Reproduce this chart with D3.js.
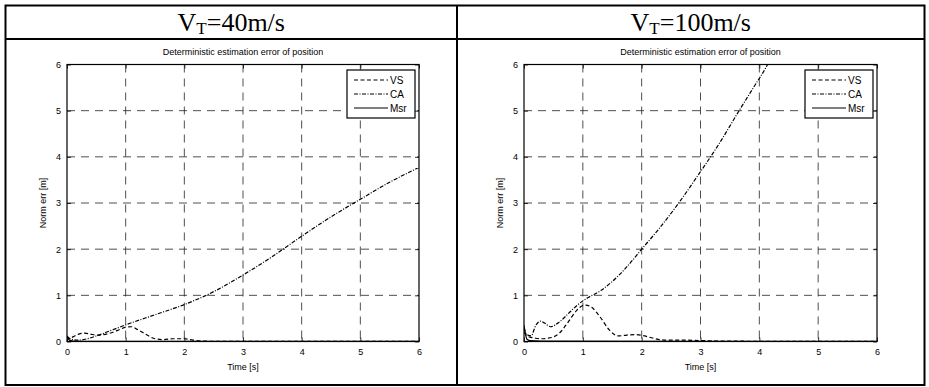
<!DOCTYPE html>
<html>
<head>
<meta charset="utf-8">
<script src="https://cdn.jsdelivr.net/npm/d3@7"></script>
<style>
  body { margin: 0; background: #fff; }
  text { font-family: "Liberation Sans", Arial, Helvetica, sans-serif; }
  .hdr { font-family: "Liberation Serif", "Times New Roman", serif; }
</style>
</head>
<body>
<div class="graphics"></div>
<script>
// panel headers
var headers = ["40m/s", "100m/s"]
var tickValues = [0, 1, 2, 3, 4, 5, 6]
var legendNames = ["VS", "CA", "Msr"]

// V_T = 40 m/s
var t40_vs = [0, 0.05, 0.1, 0.2, 0.3, 0.4, 0.5, 0.7, 0.9, 1.0, 1.1, 1.2, 1.35, 1.5, 1.65, 1.8, 2.0, 2.15, 2.3, 2.5, 3, 4, 5, 6]
var vs40   = [0.12, 0.06, 0.1, 0.16, 0.18, 0.16, 0.14, 0.17, 0.26, 0.31, 0.32, 0.26, 0.15, 0.06, 0.04, 0.06, 0.06, 0.03, 0.01, 0.005, 0.003, 0.002, 0.001, 0.001]
var t40_ca = [0, 0.1, 0.2, 0.35, 0.5, 0.75, 1, 1.5, 2, 2.5, 3, 3.5, 4, 4.5, 5, 5.5, 6]
var ca40   = [0.1, 0.04, 0.03, 0.06, 0.12, 0.24, 0.36, 0.58, 0.8, 1.08, 1.44, 1.84, 2.28, 2.7, 3.08, 3.45, 3.77]
var t40_msr = [0, 0.04, 0.1, 0.5, 6]
var msr40   = [0.12, 0.03, 0.01, 0.005, 0.003]

// V_T = 100 m/s
var t100_vs = [0, 0.05, 0.12, 0.2, 0.3, 0.4, 0.5, 0.6, 0.75, 0.9, 1.0, 1.05, 1.15, 1.3, 1.45, 1.6, 1.75, 1.9, 2.05, 2.2, 2.4, 2.7, 3.0, 3.3, 4, 5, 6]
var vs100   = [0.2, 0.12, 0.09, 0.07, 0.06, 0.07, 0.1, 0.18, 0.42, 0.68, 0.78, 0.79, 0.74, 0.52, 0.25, 0.12, 0.14, 0.15, 0.12, 0.07, 0.03, 0.03, 0.02, 0.01, 0.005, 0.003, 0.002]
var t100_ca = [0, 0.05, 0.12, 0.2, 0.28, 0.35, 0.45, 0.6, 0.75, 0.9, 1.0, 1.1, 1.3, 1.5, 1.75, 2.0, 2.3, 2.63, 3.0, 3.3, 3.68, 3.9, 4.14, 4.2]
var ca100   = [0.3, 0.15, 0.12, 0.35, 0.44, 0.4, 0.32, 0.42, 0.6, 0.78, 0.88, 0.96, 1.1, 1.3, 1.62, 2.0, 2.45, 3.0, 3.68, 4.25, 5.05, 5.5, 6.0, 6.15]
var t100_msr = [0, 0.02, 0.05, 0.1, 0.3, 6]
var msr100   = [0.35, 0.2, 0.05, 0.02, 0.01, 0.003]

var W = 929, H = 387

var svg = d3.select('.graphics')
    .append('svg')
    .attr("width", W)
    .attr("height", H)

svg.append("rect").attr("width", W).attr("height", H).attr("fill", "#fff")

// table frame
var tbl = svg.append("g").attr("stroke", "#000").attr("stroke-width", 2)
var tx0 = 5.5, tx1 = 924.5, tmid = 457, ty0 = 5.5, ty1 = 39, ty2 = 385
tbl.append("rect").attr("x", tx0).attr("y", ty0).attr("width", tx1 - tx0).attr("height", ty2 - ty0).attr("fill", "none")
tbl.append("line").attr("x1", tx0).attr("x2", tx1).attr("y1", ty1).attr("y2", ty1)
tbl.append("line").attr("x1", tmid).attr("x2", tmid).attr("y1", ty0).attr("y2", ty2)

function header(cx, label){
    var t = svg.append("text").attr("class", "hdr")
        .attr("x", cx).attr("y", 31)
        .attr("text-anchor", "middle")
        .attr("font-size", 26)
    t.append("tspan").text("V")
    t.append("tspan").attr("font-size", 17).attr("dy", 3).text("T")
    t.append("tspan").attr("dy", -3).text("=" + label)
}
header((tx0 + tmid) / 2, headers[0])
header((tmid + tx1) / 2, headers[1])

function toPts(ts, vs){
    return ts.map(function(t, i){ return [t, vs[i]]; })
}

function panel(id, left, right, series){
    var top = 64.5, bottom = 341.5
    var x = d3.scaleLinear().domain([0, 6]).range([left, right])
    var y = d3.scaleLinear().domain([0, 6]).range([bottom, top])
    var g = svg.append("g")
    var fmt = d3.format("d")

    // grid
    var inner = tickValues.slice(1, -1)
    g.selectAll(".gx").data(inner).enter().append("line")
        .attr("x1", function(d){ return x(d); }).attr("x2", function(d){ return x(d); })
        .attr("y1", top).attr("y2", bottom)
        .attr("stroke", "#222").attr("stroke-width", 0.8).attr("stroke-dasharray", "8,6")
    g.selectAll(".gy").data(inner).enter().append("line")
        .attr("y1", function(d){ return y(d); }).attr("y2", function(d){ return y(d); })
        .attr("x1", left).attr("x2", right)
        .attr("stroke", "#222").attr("stroke-width", 0.8).attr("stroke-dasharray", "8,6")

    // axes
    g.append("g").attr("transform", "translate(0," + bottom + ")")
        .call(d3.axisBottom(x).tickValues(tickValues).tickFormat(fmt).tickSize(-4).tickSizeOuter(0).tickPadding(7))
    g.append("g").attr("transform", "translate(" + left + ",0)")
        .call(d3.axisLeft(y).tickValues(tickValues).tickFormat(fmt).tickSize(-4).tickSizeOuter(0).tickPadding(6))
    g.append("g").attr("transform", "translate(0," + top + ")")
        .call(d3.axisTop(x).tickValues(tickValues).tickSize(-4).tickSizeOuter(0).tickFormat(""))
    g.append("g").attr("transform", "translate(" + right + ",0)")
        .call(d3.axisRight(y).tickValues(tickValues).tickSize(-4).tickSizeOuter(0).tickFormat(""))
    g.selectAll(".domain").remove()
    g.selectAll(".tick line").attr("stroke", "#000").attr("stroke-width", 0.8)
    g.selectAll(".tick text").attr("font-size", 9).attr("fill", "#000")
        .attr("font-family", "Liberation Sans, Arial, sans-serif")

    g.append("rect").attr("x", left).attr("y", top)
        .attr("width", right - left).attr("height", bottom - top)
        .attr("fill", "none").attr("stroke", "#000").attr("stroke-width", 1.2)

    // lines
    g.append("clipPath").attr("id", "clip" + id).append("rect")
        .attr("x", left).attr("y", top).attr("width", right - left).attr("height", bottom - top)
    var line = d3.line()
        .x(function(d){ return x(d[0]); })
        .y(function(d){ return y(d[1]); })
        .curve(d3.curveMonotoneX)
    g.append("g").attr("clip-path", "url(#clip" + id + ")")
        .selectAll("path").data(series).enter().append("path")
        .attr("d", function(d){ return line(d.pts); })
        .attr("fill", "none").attr("stroke", "#000").attr("stroke-width", 1.2)
        .attr("stroke-dasharray", function(d){ return d.dash; })

    // labels
    var cx = (left + right) / 2
    g.append("text").attr("x", cx).attr("y", 55).attr("text-anchor", "middle")
        .attr("font-size", 9).text("Deterministic estimation error of position")
    g.append("text").attr("x", cx).attr("y", 370).attr("text-anchor", "middle")
        .attr("font-size", 9).text("Time [s]")
    g.append("text").attr("transform", "translate(" + (left - 21) + "," + ((top + bottom) / 2) + ") rotate(-90)")
        .attr("text-anchor", "middle").attr("font-size", 9).text("Norm err [m]")

    // legend
    var lx = right - 72, ly = 70
    var lg = g.append("g")
    lg.append("rect").attr("x", lx).attr("y", ly).attr("width", 68).attr("height", 48)
        .attr("fill", "#fff").attr("stroke", "#000").attr("stroke-width", 1.2)
    series.forEach(function(s, i){
        var yy = ly + 10 + i * 14
        lg.append("line").attr("x1", lx + 7).attr("x2", lx + 41).attr("y1", yy).attr("y2", yy)
            .attr("stroke", "#000").attr("stroke-width", 1.2).attr("stroke-dasharray", s.dash)
        lg.append("text").attr("x", lx + 43).attr("y", yy + 3.5).attr("font-size", 10).text(s.name)
    })
}

var dashes = ["4,2.5", "4,1.5,1,1.5", null]

panel(1, 67, 419, [
    {name: legendNames[0], dash: dashes[0], pts: toPts(t40_vs, vs40)},
    {name: legendNames[1], dash: dashes[1], pts: toPts(t40_ca, ca40)},
    {name: legendNames[2], dash: dashes[2], pts: toPts(t40_msr, msr40)}
])
panel(2, 524, 877, [
    {name: legendNames[0], dash: dashes[0], pts: toPts(t100_vs, vs100)},
    {name: legendNames[1], dash: dashes[1], pts: toPts(t100_ca, ca100)},
    {name: legendNames[2], dash: dashes[2], pts: toPts(t100_msr, msr100)}
])
</script>
</body>
</html>
